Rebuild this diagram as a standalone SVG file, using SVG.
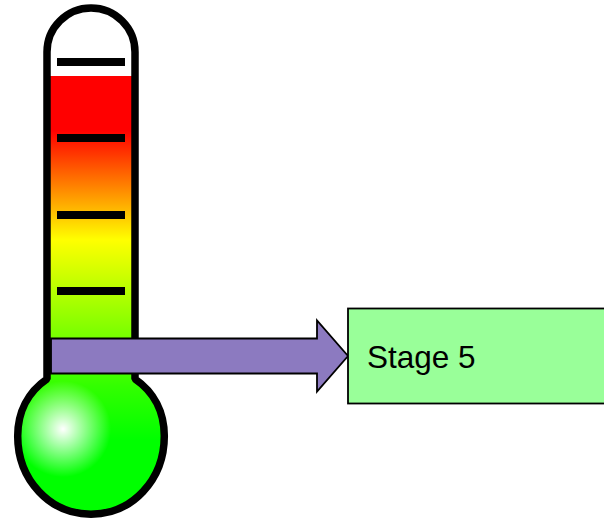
<svg xmlns="http://www.w3.org/2000/svg" width="604" height="519" viewBox="0 0 604 519">
<style>
.tick{fill:#000}
.label{font-family:"Liberation Sans",Arial,sans-serif;font-size:31.5px;fill:#000}
</style>
<defs>
<linearGradient id="tube" gradientUnits="userSpaceOnUse" x1="0" y1="76" x2="0" y2="440">
<stop offset="0" stop-color="#ff0000"/>
<stop offset="0.15" stop-color="#ff0000"/>
<stop offset="0.45" stop-color="#ffff00"/>
<stop offset="0.85" stop-color="#33ff00"/>
<stop offset="1" stop-color="#00ff00"/>
</linearGradient>
<radialGradient id="shine" gradientUnits="userSpaceOnUse" cx="63" cy="429" r="48">
<stop offset="0" stop-color="#ffffff"/>
<stop offset="1" stop-color="#ffffff" stop-opacity="0"/>
</radialGradient>
</defs>
<g id="thermometer">
<path d="M47 379V52A44 44 0 0 1 135 52V379C154 392 164.300 412 164.300 436C164.300 480 132 514.200 91 514.200C50 514.200 17.700 480 17.700 436C17.700 412 28 392 47 379Z" fill="#fff"/>
<path d="M47 76H135V379C154 392 164.300 412 164.300 436C164.300 480 132 514.200 91 514.200C50 514.200 17.700 480 17.700 436C17.700 412 28 392 47 379Z" fill="url(#tube)"/>
<ellipse cx="91" cy="436" rx="72" ry="76" fill="url(#shine)"/>
<path d="M47 379V52A44 44 0 0 1 135 52V379C154 392 164.300 412 164.300 436C164.300 480 132 514.200 91 514.200C50 514.200 17.700 480 17.700 436C17.700 412 28 392 47 379Z" fill="none" stroke="#000" stroke-width="7.500" stroke-linejoin="bevel"/>
<rect class="tick" x="57" y="58" width="68" height="8"/>
<rect class="tick" x="57" y="134" width="68" height="8"/>
<rect class="tick" x="57" y="211" width="68" height="8"/>
<rect class="tick" x="57" y="287" width="68" height="8"/>
</g>
<g id="connectors">
<path d="M51 338.500H317V320.500L348 356L317 391.500V373.500H51Z" fill="#8c7ac0" stroke="#000" stroke-width="1.800"/>
</g>
<g id="stage5">
<rect x="348" y="308.500" width="260" height="95" fill="#99ff99" stroke="#000" stroke-width="1.800"/>
<text class="label" x="367" y="368">Stage 5</text>
</g>
</svg>
